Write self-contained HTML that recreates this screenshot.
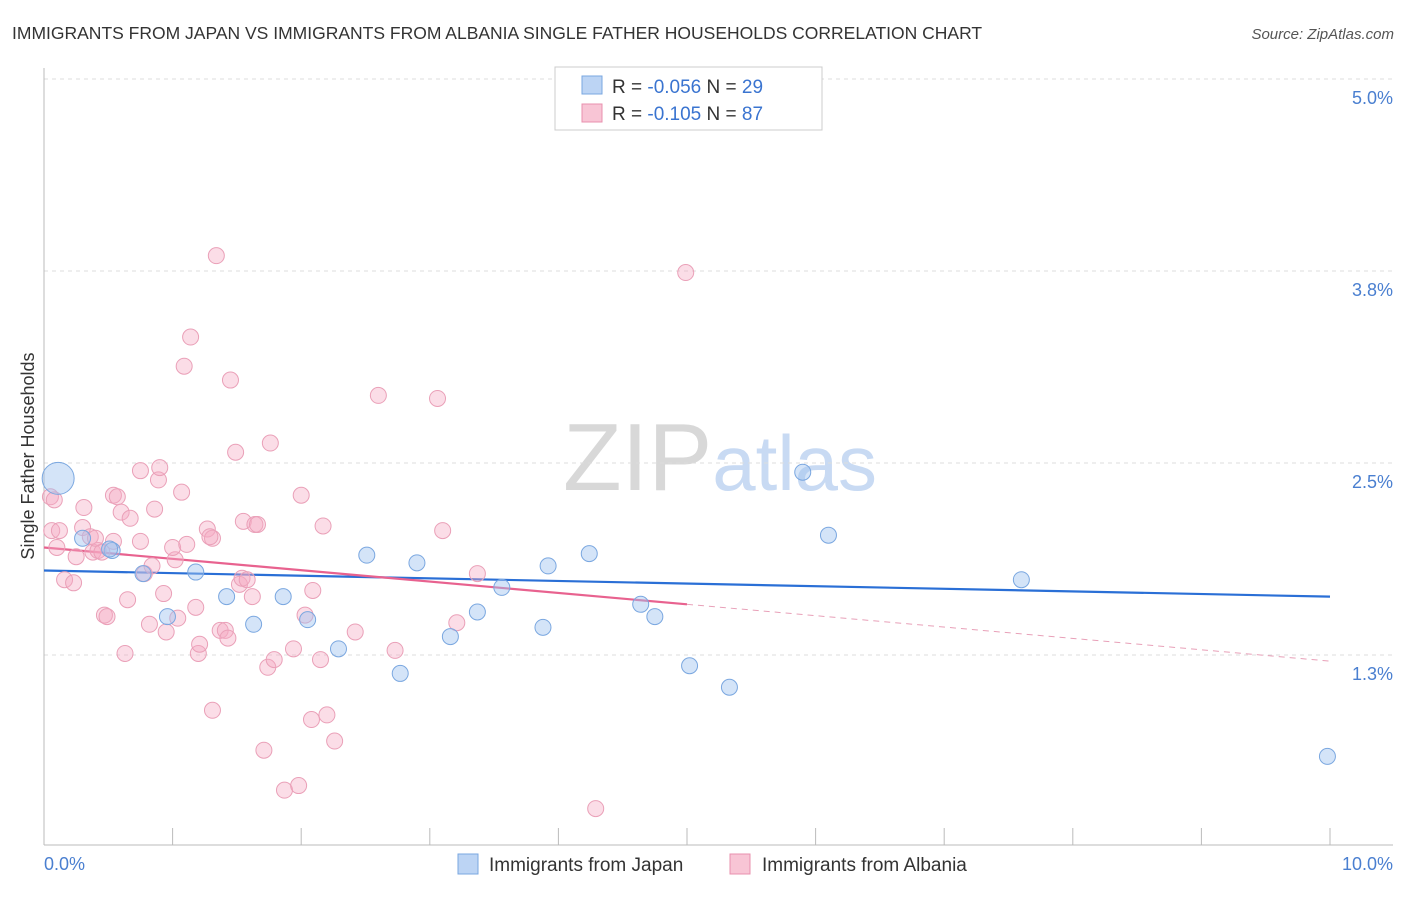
<!DOCTYPE html>
<html><head><meta charset="utf-8">
<style>
body{margin:0;background:#fff;font-family:"Liberation Sans",sans-serif;}
svg text{font-family:"Liberation Sans",sans-serif;}
</style></head>
<body>
<svg id="chart" width="1406" height="892" xmlns="http://www.w3.org/2000/svg">
<text x="12" y="39" font-size="17.5" fill="#333">IMMIGRANTS FROM JAPAN VS IMMIGRANTS FROM ALBANIA SINGLE FATHER HOUSEHOLDS CORRELATION CHART</text>
<text x="1394" y="39" font-size="15" fill="#555" text-anchor="end" font-style="italic">Source: ZipAtlas.com</text>
<text x="720" y="490" font-size="96" text-anchor="middle" fill="#ddd" font-family="Liberation Serif"><tspan fill="#d8d8d8">ZIP</tspan><tspan fill="#c8daf3" font-family="Liberation Sans" font-size="78">atlas</tspan></text>
<g id="grid"></g>
<g id="axes"></g>
<g id="trends"></g>
<g id="points"></g>
<text transform="translate(34,456) rotate(-90)" font-size="18" fill="#333" text-anchor="middle">Single Father Households</text>
<g>
<rect x="555" y="67" width="267" height="63" fill="#fff" stroke="#ccc"/>
<rect x="582" y="76" width="20" height="18" fill="#bcd4f4" stroke="#7aa7e0"/>
<rect x="582" y="104" width="20" height="18" fill="#f8c5d5" stroke="#e890ae"/>
<text x="612" y="93" font-size="19" fill="#333">R = <tspan fill="#3a74d0">-0.056</tspan>   N = <tspan fill="#3a74d0">29</tspan></text>
<text x="612" y="120" font-size="19" fill="#333">R =  <tspan fill="#3a74d0">-0.105</tspan>   N = <tspan fill="#3a74d0">87</tspan></text>
</g>
<g>
<rect x="458" y="854" width="20" height="20" fill="#bcd4f4" stroke="#7aa7e0"/>
<text x="489" y="871" font-size="19" fill="#333">Immigrants from Japan</text>
<rect x="730" y="854" width="20" height="20" fill="#f8c5d5" stroke="#e890ae"/>
<text x="762" y="871" font-size="19" fill="#333">Immigrants from Albania</text>
</g>
</svg>
<script>
const yTicks=[5.0,3.75,2.5,1.25];
const yTickLabels=["5.0%","3.8%","2.5%","1.3%"];
const xTickLabels=["0.0%","10.0%"];
const japanX=[0.11,0.30,0.53,0.77,0.96,1.18,1.42,1.63,1.86,2.05,2.29,2.51,2.77,2.90,3.16,3.37,3.56,3.88,3.92,4.24,4.64,4.75,5.02,5.33,5.90,6.10,7.60,9.98,0.51];
const japanY=[2.40,2.01,1.93,1.78,1.50,1.79,1.63,1.45,1.63,1.48,1.29,1.90,1.13,1.85,1.37,1.53,1.69,1.43,1.83,1.91,1.58,1.50,1.18,1.04,2.44,2.03,1.74,0.59,1.94];
const albaniaX=[0.05,0.08,0.06,0.12,0.10,0.16,0.23,0.25,0.30,0.31,0.36,0.38,0.42,0.45,0.40,0.47,0.49,0.54,0.57,0.54,0.60,0.63,0.65,0.67,0.75,0.75,0.78,0.82,0.84,0.86,0.89,0.90,0.93,0.95,1.04,1.02,1.00,1.07,1.11,1.14,1.09,1.18,1.20,1.21,1.27,1.31,1.31,1.34,1.37,1.41,1.43,1.45,1.49,1.52,1.54,1.55,1.58,1.62,1.64,1.66,1.71,1.74,1.76,1.79,1.87,1.94,1.98,2.00,2.03,2.09,2.08,2.15,2.17,2.20,2.26,2.42,2.60,2.73,3.06,3.10,3.21,3.37,4.29,4.99,1.29];
const albaniaY=[2.28,2.26,2.06,2.06,1.95,1.74,1.72,1.89,2.08,2.21,2.02,1.92,1.93,1.92,2.01,1.51,1.50,2.29,2.28,1.99,2.18,1.26,1.61,2.14,2.45,1.99,1.78,1.45,1.83,2.20,2.39,2.47,1.65,1.40,1.49,1.87,1.95,2.31,1.97,3.32,3.13,1.56,1.26,1.32,2.07,2.01,0.89,3.85,1.41,1.41,1.36,3.04,2.57,1.71,1.75,2.12,1.74,1.63,2.10,2.10,0.63,1.17,2.63,1.22,0.37,1.29,0.40,2.29,1.51,1.67,0.83,1.22,2.09,0.86,0.69,1.40,2.94,1.28,2.92,2.06,1.46,1.78,0.25,3.74,2.02];
const japanTrend=[1.80,1.63];   // y at x=0 and x=10
const albaniaTrend=[1.95,1.21]; // y at x=0 and x=10
const albaniaSolidEnd=5.0;

const X0=44,X1=1330,Ytop=79,pxPerUnit=153.6;
const sx=v=>X0+v/10*(X1-X0);
const sy=v=>Ytop+(5-v)*pxPerUnit;
const NS="http://www.w3.org/2000/svg";
function mk(tag,attrs,parent){const e=document.createElementNS(NS,tag);for(const k in attrs)e.setAttribute(k,attrs[k]);parent.appendChild(e);return e;}
const grid=document.getElementById('grid'),axes=document.getElementById('axes'),trends=document.getElementById('trends'),pts=document.getElementById('points');
yTicks.forEach((t,i)=>{
  const l=mk('line',{x1:X0,x2:1393,y1:sy(t),y2:sy(t),stroke:'#ddd','stroke-dasharray':'4,4'},grid);
  
  
  const tx=mk('text',{x:1393,y:sy(t)+25,'font-size':18,fill:'#4a7fd0','text-anchor':'end'},grid);
  tx.textContent=yTickLabels[i];
  
  
});
const ax=mk('line',{x1:X0,x2:1393,y1:845,y2:845,stroke:'#bbb'},axes);


const ay=mk('line',{x1:X0,x2:X0,y1:68,y2:845,stroke:'#bbb'},axes);


for(let i=0;i<=10;i++){
  const t=mk('line',{x1:sx(i),x2:sx(i),y1:828,y2:845,stroke:'#bbb'},axes);
  
  
}
const xl0=mk('text',{x:44,y:870,'font-size':18,fill:'#4a7fd0'},axes);xl0.textContent=xTickLabels[0];


const xl1=mk('text',{x:1393,y:870,'font-size':18,fill:'#4a7fd0','text-anchor':'end'},axes);xl1.textContent=xTickLabels[1];



albaniaX.forEach((x,i)=>{
  const c=mk('circle',{cx:sx(x),cy:sy(albaniaY[i]),r:8,fill:'rgba(245,170,195,0.4)',stroke:'#eaa0b8','stroke-width':1},pts);
  
  
});
japanX.forEach((x,i)=>{
  const c=mk('circle',{cx:sx(x),cy:sy(japanY[i]),r:i===0?16:8,fill:'rgba(160,195,240,0.45)',stroke:'#7aa7e0','stroke-width':1},pts);
  
  
});
const jt=mk('line',{x1:sx(0),y1:sy(japanTrend[0]),x2:sx(10),y2:sy(japanTrend[1]),stroke:'#2a6fd6','stroke-width':2.2},trends);


const aMid=albaniaTrend[0]+(albaniaTrend[1]-albaniaTrend[0])*albaniaSolidEnd/10;
const at=mk('line',{x1:sx(0),y1:sy(albaniaTrend[0]),x2:sx(albaniaSolidEnd),y2:sy(aMid),stroke:'#e8628f','stroke-width':2.2},trends);


const ad=mk('line',{x1:sx(albaniaSolidEnd),y1:sy(aMid),x2:sx(10),y2:sy(albaniaTrend[1]),stroke:'#e8a0b8','stroke-width':1,'stroke-dasharray':'6,5'},trends);


</script>
</body></html>
